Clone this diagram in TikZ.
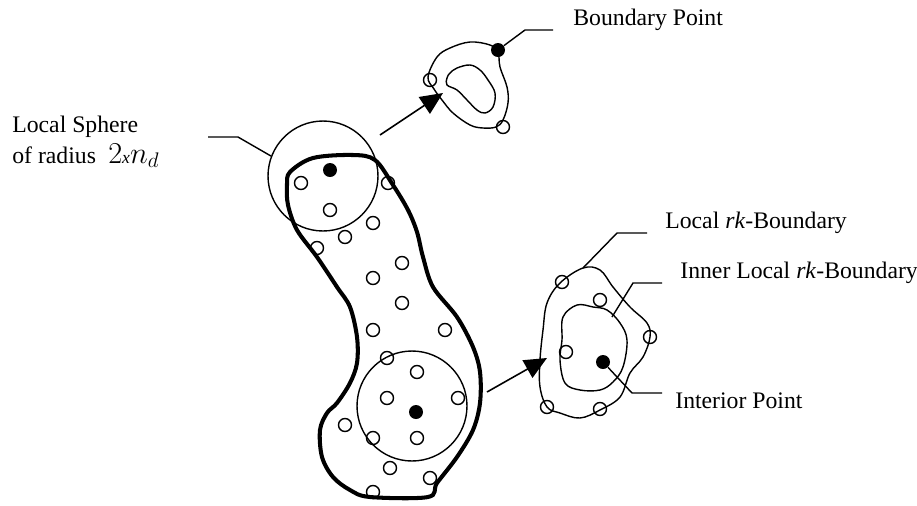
\documentclass[tikz,border=0pt]{standalone}
\usepackage{fontspec}
\setmainfont{Liberation Serif}
\usepackage{tikz}
\usetikzlibrary{arrows.meta}
\tikzset{
  >={Triangle[length=4.5mm,width=4mm]},
  opt/.style={draw, circle, line width=0.8pt, inner sep=0pt, minimum size=2.6mm},
  fpt/.style={circle, fill=black, inner sep=0pt, minimum size=2.8mm},
  sph/.style={draw, circle, line width=0.8pt, inner sep=0pt, minimum size=2.2cm},
  blob/.style={line width=2.3pt},
  rim/.style={line width=0.8pt},
  lead/.style={line width=0.8pt},
  arr/.style={->, line width=0.9pt},
  lbl/.style={anchor=base west, inner sep=0pt, font=\fontsize{13.5}{16}\selectfont},
}
\newcommand{\rk}{\textit{rk}}

\begin{document}
\begin{tikzpicture}[x=0.02cm,y=-0.02cm]
  \useasboundingbox (0,0) rectangle (917,505);
  % body with its two local spheres
  \draw[blob] plot[smooth cycle, tension=0.55] coordinates {
    (290,172) (313,158) (353,155) (375,160) (393,185) (408,210) (417,232)
    (423,257) (433,287) (457,317) (473,347) (480,372) (480,403) (473,430)
    (457,457) (437,483) (428,497) (370,497) (350,490) (333,477) (322,457)
    (320,430) (327,413) (337,403) (350,383) (357,363) (357,337) (350,307)
    (337,287) (317,257) (297,230) (288,205) (287,185)};
  \node[sph] (usph) at (323,176) {};
  \node[sph] (lsph) at (412,406) {};
  \foreach \x/\y [count=\i] in {301/183, 330/210, 388/183, 373/223, 345/237,
      317/248, 402/263, 373/278, 402/303, 373/330, 445/330, 387/358, 417/372,
      387/398, 458/398, 345/425, 373/438, 417/438, 390/468, 430/478, 373/492}
    \node[opt] (p\i) at (\x,\y) {};
  \node[fpt] (uctr) at (330,170) {};
  \node[fpt] (lctr) at (416,412) {};

  % boundary point region
  \draw[rim] plot[smooth cycle, tension=0.6] coordinates {
    (428,77) (437,57) (450,48) (470,42) (490,45) (498,52) (500,67) (507,87)
    (508,103) (503,120) (496,127) (483,128) (470,125) (453,113) (442,100) (434,89)};
  \draw[rim] plot[smooth cycle, tension=0.6] coordinates {
    (450,73) (457,68) (470,65) (480,70) (488,80) (495,93) (493,107) (485,113)
    (477,110) (467,100) (457,90) (447,85) (447,78)};
  \node[opt] (ub1) at (430,80) {};
  \node[opt] (ub2) at (503,127) {};
  \node[fpt] (udot) at (498,50) {};

  % interior point region
  \draw[rim] plot[smooth cycle, tension=0.6] coordinates {
    (543,330) (547,303) (560,283) (583,268) (600,270) (613,287) (630,307)
    (647,323) (650,337) (643,357) (630,373) (620,397) (600,410) (580,418)
    (560,413) (547,407) (540,387) (540,360)};
  \draw[rim] plot[smooth cycle, tension=0.6] coordinates {
    (563,317) (577,305) (593,307) (607,310) (620,323) (627,340) (623,367)
    (613,382) (600,390) (580,390) (565,383) (560,360) (562,340)};
  \foreach \x/\y [count=\i] in {562/282, 650/337, 547/407, 600/409, 600/300, 566/352}
    \node[opt] (r\i) at (\x,\y) {};
  \node[fpt] (rdot) at (603,362) {};

  % arrows
  \coordinate (ua0) at (380,135);
  \coordinate (ua1) at (443,93);
  \coordinate (la0) at (487,392);
  \coordinate (la1) at (547,358);
  \draw[arr] (ua0) -- (ua1);
  \draw[arr] (la0) -- (la1);

  % labels and leaders
  \node[lbl] (lsphA) at (12,132) {Local Sphere};
  \node[lbl] (lsphB) at (12,163) {of radius\hspace{7pt}{\fontsize{17}{20}\selectfont$2$}{\fontsize{10}{12}\selectfont\itshape x}{\fontsize{17}{20}\selectfont$n_d$}};
  \coordinate (sphe) at (208,137);
  \coordinate (sphk) at (238,137);
  \draw[lead] (sphe) -- (sphk) -- (usph.159);

  \node[lbl] (bplbl) at (573,25) {Boundary Point};
  \coordinate (bpk) at (525,30);
  \coordinate (bpe) at (553,30);
  \draw[lead] (udot) -- (bpk) -- (bpe);

  \node[lbl] (lrklbl) at (665,228) {Local \rk-Boundary};
  \coordinate (lrks) at (583,268);
  \coordinate (lrkk) at (617,233);
  \coordinate (lrke) at (647,233);
  \draw[lead] (lrks) -- (lrkk) -- (lrke);

  \node[lbl] (ilrklbl) at (680,278) {Inner Local \rk-Boundary};
  \coordinate (ilrks) at (612,317);
  \coordinate (ilrkk) at (633,283);
  \coordinate (ilrke) at (662,283);
  \draw[lead] (ilrks) -- (ilrkk) -- (ilrke);

  \node[lbl] (iptlbl) at (675,408) {Interior Point};
  \coordinate (iptk) at (632,393);
  \coordinate (ipte) at (662,393);
  \draw[lead] (rdot) -- (iptk) -- (ipte);
\end{tikzpicture}
\end{document}
